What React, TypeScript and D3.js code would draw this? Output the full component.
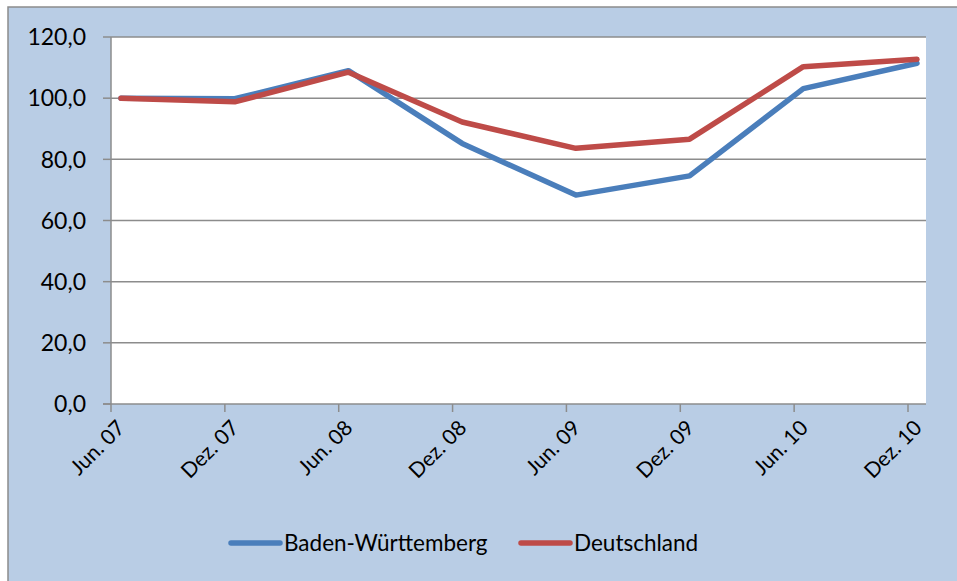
import * as d3 from 'd3';

const categories = ['Jun. 07', 'Dez. 07', 'Jun. 08', 'Dez. 08', 'Jun. 09', 'Dez. 09', 'Jun. 10', 'Dez. 10'];
const badenWuerttemberg = [100.0, 99.8, 109.0, 85.2, 68.3, 74.6, 103.1, 111.4];
const deutschland = [100.0, 98.8, 108.5, 92.2, 83.6, 86.6, 110.3, 112.7];
const yTicks = [0, 20, 40, 60, 80, 100, 120];

const series = [
  { name: 'Baden-Württemberg', values: badenWuerttemberg, color: '#4A7EBB' },
  { name: 'Deutschland', values: deutschland, color: '#BE4B48' },
];

const W = 957;
const H = 581;
const font = 'Lato, "Open Sans", sans-serif';

export default function App() {
  const plotLeft = 111;
  const plotRight = 926;
  const plotTop = 37;
  const plotBottom = 404;

  const y = d3.scaleLinear().domain([0, 120]).range([plotBottom, plotTop]);
  // tick marks of the category axis
  const xTick = d3.scalePoint<string>().domain(categories).range([plotLeft, 908]);
  // data points sit a bit right of the ticks, like in the original
  const xData = d3.scalePoint<string>().domain(categories).range([121, 917]);

  const line = d3.line<number>()
    .x((_, i) => xData(categories[i]) as number)
    .y(d => y(d));

  const fmt = (v: number) => v.toFixed(1).replace('.', ',');

  return (
    <svg width={W} height={H} style={{ display: 'block', position: 'absolute', left: 0, top: 0 }}>
      <rect x={8} y={7} width={W + 10} height={H + 10} fill="#B9CDE5" stroke="#8C8C8C" strokeWidth={1.5} />
      <rect x={plotLeft} y={plotTop} width={plotRight - plotLeft} height={plotBottom - plotTop} fill="#FFFFFF" />

      {/* gridlines + y ticks */}
      {yTicks.map(t => (
        <g key={t}>
          {t > 0 && (
            <line x1={plotLeft} x2={plotRight} y1={y(t)} y2={y(t)} stroke="#8C8C8C" strokeWidth={1.5} />
          )}
          <line x1={plotLeft - 8} x2={plotLeft} y1={y(t)} y2={y(t)} stroke="#8C8C8C" strokeWidth={1.5} />
          <text x={86} y={y(t)} dy="0.36em" textAnchor="end" fontFamily={font} fontSize={23} fill="#000">
            {fmt(t)}
          </text>
        </g>
      ))}

      {/* axes */}
      <line x1={plotLeft} x2={plotLeft} y1={plotTop} y2={plotBottom} stroke="#8C8C8C" strokeWidth={1.5} />
      <line x1={plotLeft - 8} x2={plotRight} y1={plotBottom} y2={plotBottom} stroke="#8C8C8C" strokeWidth={1.5} />

      {categories.map(c => {
        const tx = xTick(c) as number;
        return (
          <g key={c}>
            <line x1={tx} x2={tx} y1={plotBottom} y2={plotBottom + 8} stroke="#8C8C8C" strokeWidth={1.5} />
            <text
              transform={`translate(${tx + 10},${plotBottom + 20}) rotate(-45)`}
              textAnchor="end"
              dy="0.35em"
              fontFamily={font}
              fontSize={21}
              fill="#000"
            >
              {c}
            </text>
          </g>
        );
      })}

      {/* series lines */}
      {series.map(s => (
        <path
          key={s.name}
          d={line(s.values) || ''}
          fill="none"
          stroke={s.color}
          strokeWidth={5.5}
          strokeLinejoin="round"
          strokeLinecap="round"
        />
      ))}

      {/* legend */}
      {series.map((s, i) => {
        const lx = i === 0 ? 231 : 521;
        const ly = 543;
        return (
          <g key={s.name}>
            <line x1={lx} x2={lx + 49} y1={ly} y2={ly} stroke={s.color} strokeWidth={5.5} strokeLinecap="round" />
            <text x={lx + 53} y={ly} dy="0.36em" fontFamily={font} fontSize={22.5} fill="#000">
              {s.name}
            </text>
          </g>
        );
      })}
    </svg>
  );
}
